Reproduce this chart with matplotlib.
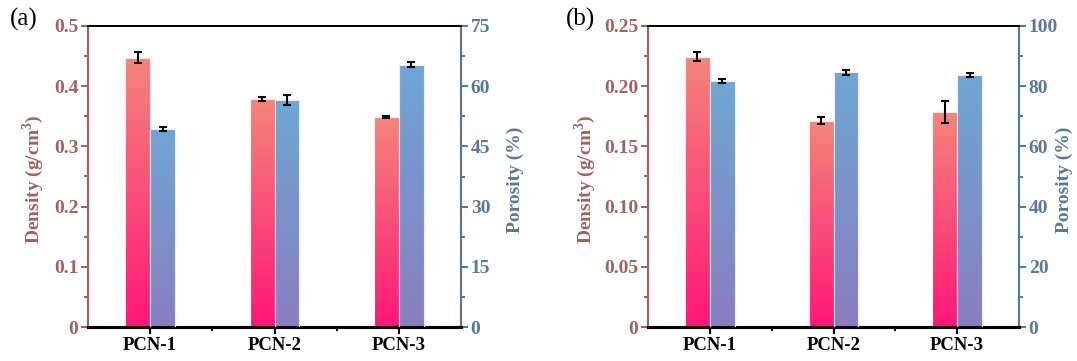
import numpy as np
import matplotlib
matplotlib.use("Agg")
import matplotlib.pyplot as plt
from matplotlib.colors import LinearSegmentedColormap
from matplotlib.ticker import MultipleLocator, FixedLocator, FuncFormatter

plt.rcParams['font.family'] = ['Liberation Serif', 'DejaVu Serif']
plt.rcParams['mathtext.fontset'] = 'custom'
plt.rcParams['mathtext.rm'] = 'Liberation Serif:bold'
plt.rcParams['mathtext.bf'] = 'Liberation Serif:bold'

categories = ["PCN-1", "PCN-2", "PCN-3"]

# Panel (a)
dens_a = [0.447, 0.379, 0.349]
dens_a_err = [0.009, 0.003, 0.002]
por_a = [49.3, 56.5, 65.4]
por_a_err = [0.5, 1.2, 0.7]

# Panel (b)
dens_b = [0.2245, 0.1715, 0.1786]
dens_b_err = [0.0037, 0.0028, 0.0089]
por_b = [81.7, 84.6, 83.7]
por_b_err = [0.8, 0.9, 0.8]

BROWN = '#A2625A'
BLUE = '#56789A'
dens_cmap = LinearSegmentedColormap.from_list('d', ['#FF1678', '#F4867A'])
por_cmap = LinearSegmentedColormap.from_list('p', ['#8A7EC0', '#6EA6D4'])

fig = plt.figure(figsize=(10.77, 3.61), dpi=100)


def grad_bars(ax, xs, heights, width, cmap):
    bars = ax.bar(xs, heights, width=width, align='edge', facecolor='none',
                  edgecolor='#F6ECEF', linewidth=0.8, zorder=3)
    grad = np.linspace(0, 1, 256).reshape(-1, 1)
    for b in bars:
        x0, y0 = b.get_x(), b.get_y()
        w, h = b.get_width(), b.get_height()
        im = ax.imshow(grad, extent=[x0, x0 + w, y0, y0 + h], origin='lower',
                       aspect='auto', cmap=cmap, zorder=2, interpolation='bilinear')
        im.set_clip_path(b)
    return bars


def panel(rect, dens, dens_err, por, por_err, dmax, dmaj, dmin, pmax, pmaj, pmin, dfmt,
          label, lx, dlx, plx):
    ax = fig.add_axes(rect)
    ax2 = ax.twinx()
    x = np.arange(1, len(categories) + 1)
    bw = 0.2
    grad_bars(ax, x - bw, dens, bw, dens_cmap)
    ax.errorbar(x - bw / 2, dens, yerr=dens_err, fmt='none', ecolor='black',
                elinewidth=1.5, capsize=2.7, capthick=1.5, zorder=5)
    grad_bars(ax2, x, por, bw, por_cmap)
    ax2.errorbar(x + bw / 2, por, yerr=por_err, fmt='none', ecolor='black',
                 elinewidth=1.5, capsize=2.7, capthick=1.5, zorder=5)

    ax.set_xlim(0.5, 3.5)
    ax.set_ylim(0, dmax)
    ax2.set_ylim(0, pmax)
    ax.set_xticks(x)
    ax.set_xticklabels(categories, fontweight='bold', fontsize=13.5)
    ax.xaxis.set_minor_locator(FixedLocator([1.5, 2.5]))
    ax.yaxis.set_major_locator(MultipleLocator(dmaj))
    ax.yaxis.set_minor_locator(MultipleLocator(dmin))
    ax.yaxis.set_major_formatter(FuncFormatter(dfmt))
    ax2.yaxis.set_major_locator(MultipleLocator(pmaj))
    ax2.yaxis.set_minor_locator(MultipleLocator(pmin))

    for a in (ax, ax2):
        a.spines['top'].set_linewidth(1.3)
        a.spines['bottom'].set_linewidth(2.2)
        a.spines['left'].set_color(BROWN)
        a.spines['left'].set_linewidth(1.5)
        a.spines['right'].set_color(BLUE)
        a.spines['right'].set_linewidth(1.5)

    ax.tick_params(axis='x', which='major', direction='out', length=5, width=1.5, pad=2)
    ax.tick_params(axis='x', which='minor', direction='out', length=3, width=1.5)
    ax.tick_params(axis='y', which='major', direction='out', length=5, width=1.5,
                   colors=BROWN, labelsize=14, pad=2)
    ax.tick_params(axis='y', which='minor', direction='out', length=3, width=1.5, colors=BROWN)
    ax2.tick_params(axis='y', which='major', direction='out', length=5, width=1.5,
                    colors=BLUE, labelsize=14, pad=2)
    ax2.tick_params(axis='y', which='minor', direction='out', length=3, width=1.5, colors=BLUE)
    for t in ax.get_yticklabels() + ax2.get_yticklabels():
        t.set_fontweight('bold')

    ax.set_ylabel('Density (g/cm$^3$)', color=BROWN, fontweight='bold', fontsize=14)
    ax2.set_ylabel('Porosity (%)', color=BLUE, fontweight='bold', fontsize=14)
    ax.yaxis.set_label_coords(dlx, 0.49)
    ax2.yaxis.set_label_coords(plx, 0.49)
    fig.text(lx, 0.945, label, fontsize=18, ha='left', va='center')
    return ax, ax2


def fmt_a(v, pos):
    return '0' if abs(v) < 1e-9 else f'{v:.1f}'


def fmt_b(v, pos):
    return '0' if abs(v) < 1e-9 else f'{v:.2f}'


panel([88 / 1077, 1 - 327 / 361, 373 / 1077, 301 / 361], dens_a, dens_a_err, por_a, por_a_err,
      0.5, 0.1, 0.05, 75, 15, 7.5, fmt_a, '(a)', 10 / 1077, -0.113, 1.123)
panel([648 / 1077, 1 - 327 / 361, 371 / 1077, 301 / 361], dens_b, dens_b_err, por_b, por_b_err,
      0.25, 0.05, 0.025, 100, 20, 10, fmt_b, '(b)', 566 / 1077, -0.135, 1.100)

fig.savefig('out.png', dpi=100)
